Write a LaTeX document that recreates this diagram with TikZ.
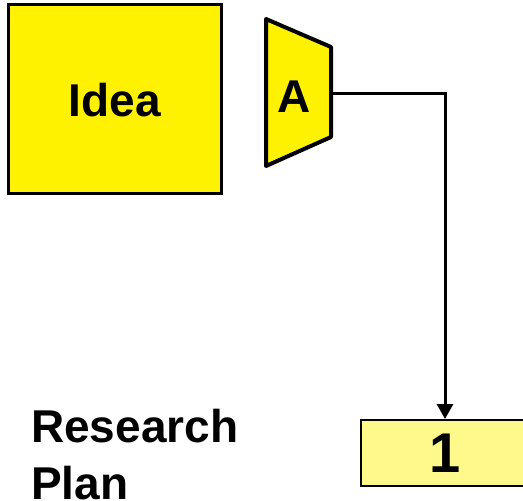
\documentclass[tikz,border=0pt]{standalone}
\usepackage{fontspec}
\setmainfont{Liberation Sans}
\usetikzlibrary{arrows.meta}
\begin{document}
\begin{tikzpicture}[x=1pt,y=-1pt,
  label46/.style={font=\fontsize{46}{56}\selectfont\bfseries, inner sep=0pt},
  ideabox/.style={draw=black, line width=2.5pt, fill=yellow, inner sep=0pt},
  stagebox/.style={draw=black, line width=2pt, fill=yellow!45, inner sep=0pt,
    minimum width=168pt, minimum height=66pt,
    font=\fontsize{56}{56}\selectfont\bfseries},
  link/.style={line width=3pt, -{Triangle[length=15pt,width=16pt]}}]
\useasboundingbox (0,0) rectangle (523,501);
% idea square
\node[ideabox, minimum width=213pt, minimum height=189pt] (idea) at (115,99) {};
\node[label46, anchor=base] (ideatext) at (115,116) {Idea};
% trapezoid gate A
\filldraw[fill=yellow, draw=black, line width=4pt, line join=round]
  (266,19) -- (331,47) -- (331,137) -- (266,166) -- cycle;
\node[label46, anchor=base] (gate) at (294,112) {A};
\coordinate (gateout) at (332,93);
% stage 1 box
\node[stagebox] (stage) at (445,453) {1};
% connector
\draw[link] (gateout) -| (stage.north);
% caption
\node[label46, anchor=base west] (plan) at (31,442) {Research};
\node[label46, anchor=base west] (plan2) at (31,499) {Plan};
\end{tikzpicture}
\end{document}
